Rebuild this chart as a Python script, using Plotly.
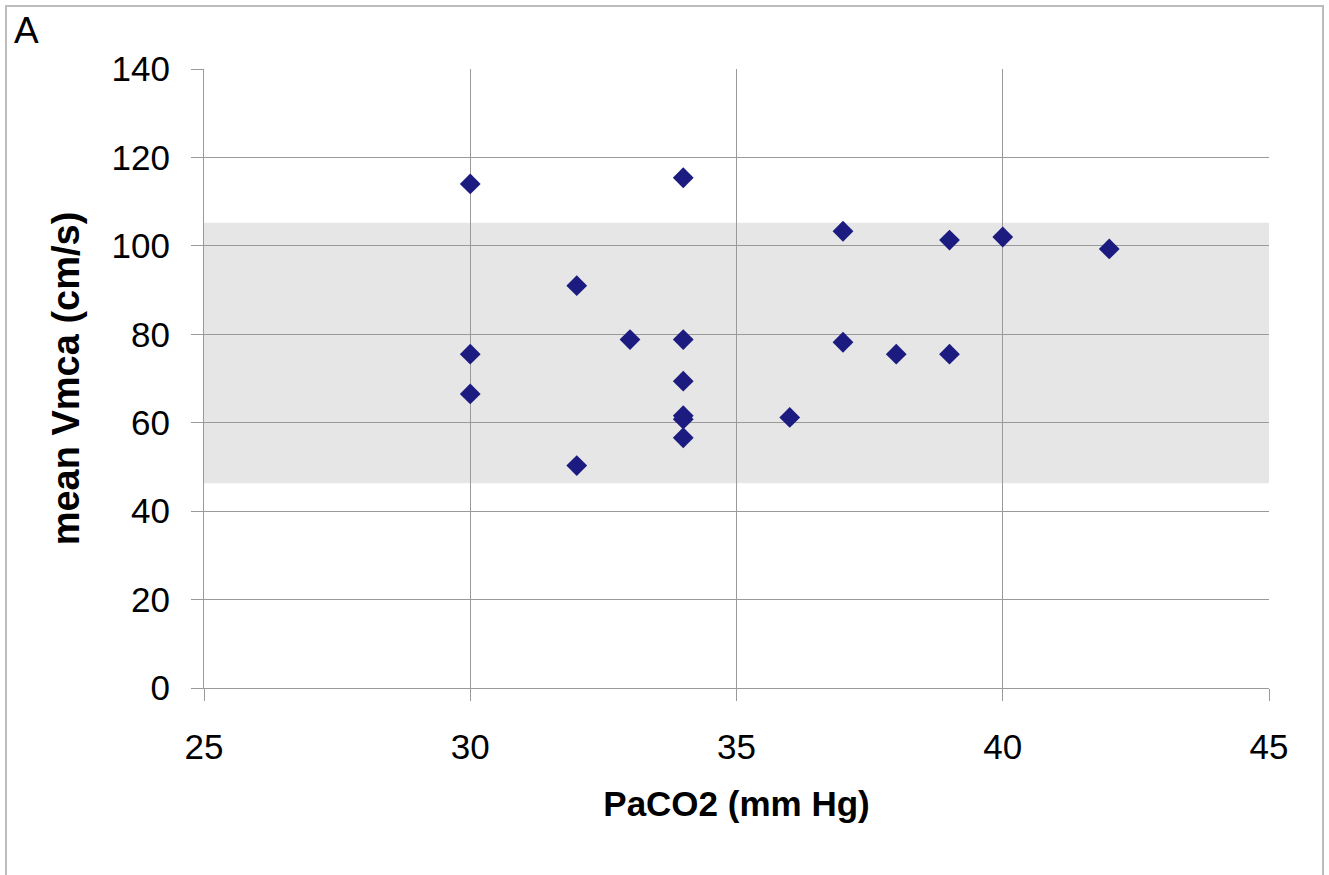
import plotly.graph_objects as go

# PaCO2 (mm Hg) vs mean middle cerebral artery velocity (cm/s)
paco2 = [30, 30, 30, 32, 32, 33, 34, 34, 34, 34, 34, 34, 36, 37, 37, 38, 39, 39, 40, 42]
vmca = [114, 75.5, 66.5, 91, 50.3, 78.8, 115.4, 78.8, 69.4, 61.6, 60.8, 56.6, 61.2, 103.3, 78.2, 75.5, 101.3, 75.5, 102, 99.3]

# normal reference range for mean Vmca
band_low, band_high = 46.3, 105.2

x_ticks = [25, 30, 35, 40, 45]
y_ticks = [0, 20, 40, 60, 80, 100, 120, 140]

W, H = 1329, 875
L, R, T, B = 204, 60, 69, 187
plot_w, plot_h = W - L - R, H - T - B


def px_x(p):
    return (p - L) / plot_w


def px_y(p):
    return (H - B - p) / plot_h


fig = go.Figure()
fig.add_trace(go.Scatter(
    x=paco2, y=vmca, mode="markers",
    marker=dict(symbol="diamond", size=16, color="#1b1b80", line=dict(width=0)),
    hoverinfo="x+y", showlegend=False,
))

shapes = [
    dict(type="rect", xref="x", yref="y", x0=25, x1=45, y0=band_low, y1=band_high,
         fillcolor="#e6e6e6", line=dict(width=0), layer="below"),
    # outer frame (left, top, right)
    dict(type="path", xref="paper", yref="paper",
         path=f"M {px_x(6)} {px_y(880)} L {px_x(6)} {px_y(6)} L {px_x(1323)} {px_y(6)} L {px_x(1323)} {px_y(880)}",
         line=dict(color="#bdbdbd", width=2), layer="above"),
]

axis_font = dict(family="Liberation Sans, Arial, sans-serif", size=35, color="#000")

fig.update_layout(
    width=W, height=H,
    margin=dict(l=L, r=R, t=T, b=B, pad=0),
    paper_bgcolor="white", plot_bgcolor="rgba(0,0,0,0)",
    shapes=shapes,
    font=axis_font,
    xaxis=dict(
        range=[25, 45], tickvals=x_ticks, ticktext=[str(v) for v in x_ticks],
        showgrid=True, gridcolor="#9a9a9a", gridwidth=1,
        showline=True, linecolor="#9a9a9a", linewidth=1,
        ticks="outside", ticklen=12, tickcolor="#9a9a9a", tickwidth=1,
        ticklabelstandoff=16, zeroline=False, fixedrange=True,
        title=dict(text="<b>PaCO2 (mm Hg)</b>", font=dict(size=35), standoff=26),
    ),
    yaxis=dict(
        range=[0, 140], tickvals=y_ticks, ticktext=[str(v) for v in y_ticks],
        showgrid=True, gridcolor="#9a9a9a", gridwidth=1,
        showline=True, linecolor="#9a9a9a", linewidth=1,
        ticks="outside", ticklen=12, tickcolor="#9a9a9a", tickwidth=1,
        ticklabelstandoff=14, zeroline=False, fixedrange=True,
        title=dict(text="<b>mean Vmca (cm/s)</b>", font=dict(size=38), standoff=20),
    ),
    annotations=[dict(text="A", xref="paper", yref="paper", x=px_x(12), y=px_y(8),
                      xanchor="left", yanchor="top", showarrow=False,
                      font=dict(size=37, color="#000"))],
)

fig.write_html("out.html")
